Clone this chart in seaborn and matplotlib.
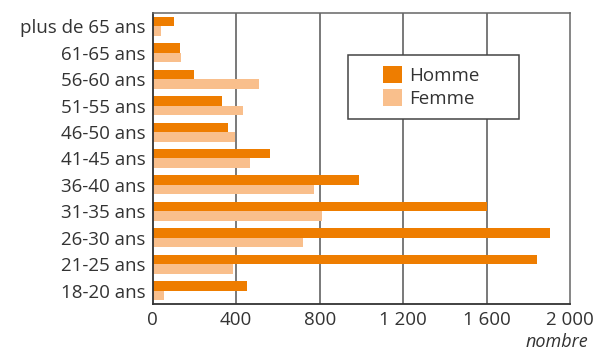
import matplotlib
matplotlib.use("Agg")
import matplotlib.pyplot as plt
import seaborn as sns
import pandas as pd
from matplotlib.patches import Patch, Rectangle

categories = ["plus de 65 ans", "61-65 ans", "56-60 ans", "51-55 ans", "46-50 ans",
              "41-45 ans", "36-40 ans", "31-35 ans", "26-30 ans", "21-25 ans", "18-20 ans"]
homme = [100, 130, 200, 330, 360, 560, 990, 1600, 1905, 1840, 450]
femme = [40, 135, 510, 435, 395, 465, 775, 810, 720, 385, 55]
series = ["Homme", "Femme"]
xticks = [0, 400, 800, 1200, 1600, 2000]
xticklabels = ["0", "400", "800", "1 200", "1 600", "2 000"]
colors = {"Homme": "#ee7d00", "Femme": "#f9bf8c"}

df = pd.DataFrame({
    "age": categories * 2,
    "nombre": homme + femme,
    "sexe": [series[0]] * len(categories) + [series[1]] * len(categories),
})

sns.set_theme(style="white")
plt.rcParams["font.family"] = ["Open Sans", "DejaVu Sans"]

fig = plt.figure(figsize=(5.97, 3.53), dpi=100)
ax = fig.add_axes([0.2558, 0.139, 0.699, 0.824])

sns.barplot(data=df, y="age", x="nombre", hue="sexe", order=categories,
            hue_order=series, palette=colors, orient="h", width=0.72,
            saturation=1, ax=ax, legend=False, linewidth=0)

ax.set_xlim(0, 2000)
ax.set_ylim(len(categories) - 0.5, -0.5)
ax.set_xticks(xticks)
ax.set_xticklabels(xticklabels)
ax.set_xlabel("")
ax.set_ylabel("")
ax.tick_params(axis="both", length=0, labelsize=13.5, colors="#333333")
ax.tick_params(axis="x", pad=5)
ax.tick_params(axis="y", pad=5)

for x in xticks[1:-1]:
    ax.axvline(x, color="#555555", lw=1.1, zorder=0)

for side in ["top", "right"]:
    ax.spines[side].set_color("#666666")
    ax.spines[side].set_linewidth(1.1)
for side in ["left", "bottom"]:
    ax.spines[side].set_color("#333333")
    ax.spines[side].set_linewidth(1.3)

# legend frame drawn separately for its wide side margins
ax.add_patch(Rectangle((0.468, 0.636), 0.41, 0.22, transform=ax.transAxes,
                       facecolor="white", edgecolor="#444444", lw=1.1,
                       zorder=5, clip_on=False))
handles = [Patch(facecolor=colors[s], edgecolor="none", label=s) for s in series]
leg = ax.legend(handles=handles, loc="upper left", bbox_to_anchor=(0.553, 0.818),
                frameon=False, fontsize=13.5, borderpad=0,
                handlelength=1.0, handleheight=1.0, handletextpad=0.35,
                labelspacing=0.25, borderaxespad=0)
leg.set_zorder(6)
for t in leg.get_texts():
    t.set_color("#333333")

fig.text(0.985, 0.005, "nombre", ha="right", va="bottom", fontsize=13,
         style="italic", color="#333333")

fig.savefig("out.png", dpi=100)
